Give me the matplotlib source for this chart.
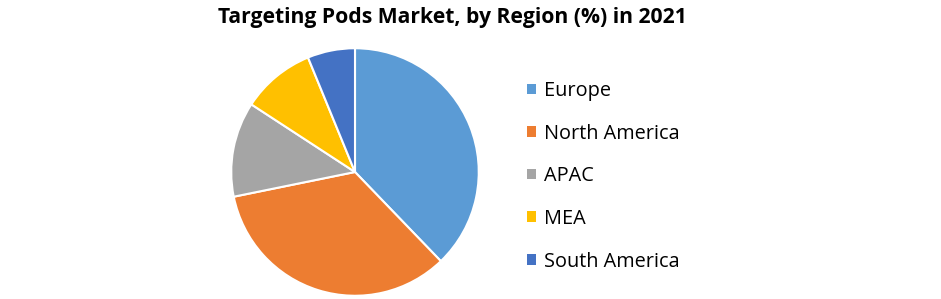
import matplotlib
matplotlib.use("Agg")
import matplotlib.pyplot as plt
from matplotlib.patches import Patch

# data
regions = ["Europe", "North America", "APAC", "MEA", "South America"]
shares = [37.8, 34.0, 12.4, 9.6, 6.2]
colors = ["#5B9BD5", "#ED7D31", "#A5A5A5", "#FFC000", "#4472C4"]

plt.rcParams['font.family'] = ['Open Sans', 'DejaVu Sans']

W, H = 941, 299
fig = plt.figure(figsize=(W / 100, H / 100), dpi=100)

# pie centre ~ (355,172) px, radius ~125 px
cx, cy, r = 355, 172, 125
ax = fig.add_axes([(cx - r) / W, (H - cy - r) / H, 2 * r / W, 2 * r / H])
ax.pie(shares, colors=colors, startangle=90, counterclock=False,
       wedgeprops=dict(edgecolor="white", linewidth=1.5))
ax.set_xlim(-1.01, 1.01)
ax.set_ylim(-1.01, 1.01)
ax.set_aspect("equal")
ax.axis("off")

fig.text(452 / W, 1 - 18 / H, "Targeting Pods Market, by Region (%) in 2021",
         ha="center", va="center", fontsize=15.2, fontweight="bold")

handles = [Patch(facecolor=c, edgecolor="none") for c in colors]
fig.legend(handles, regions, loc="upper left",
           bbox_to_anchor=(519 / W, 1 - 73 / H), frameon=False,
           fontsize=14.3, handlelength=0.45, handleheight=0.45,
           handletextpad=0.4, labelspacing=1.14, borderaxespad=0)

fig.savefig("out.png", dpi=100)
